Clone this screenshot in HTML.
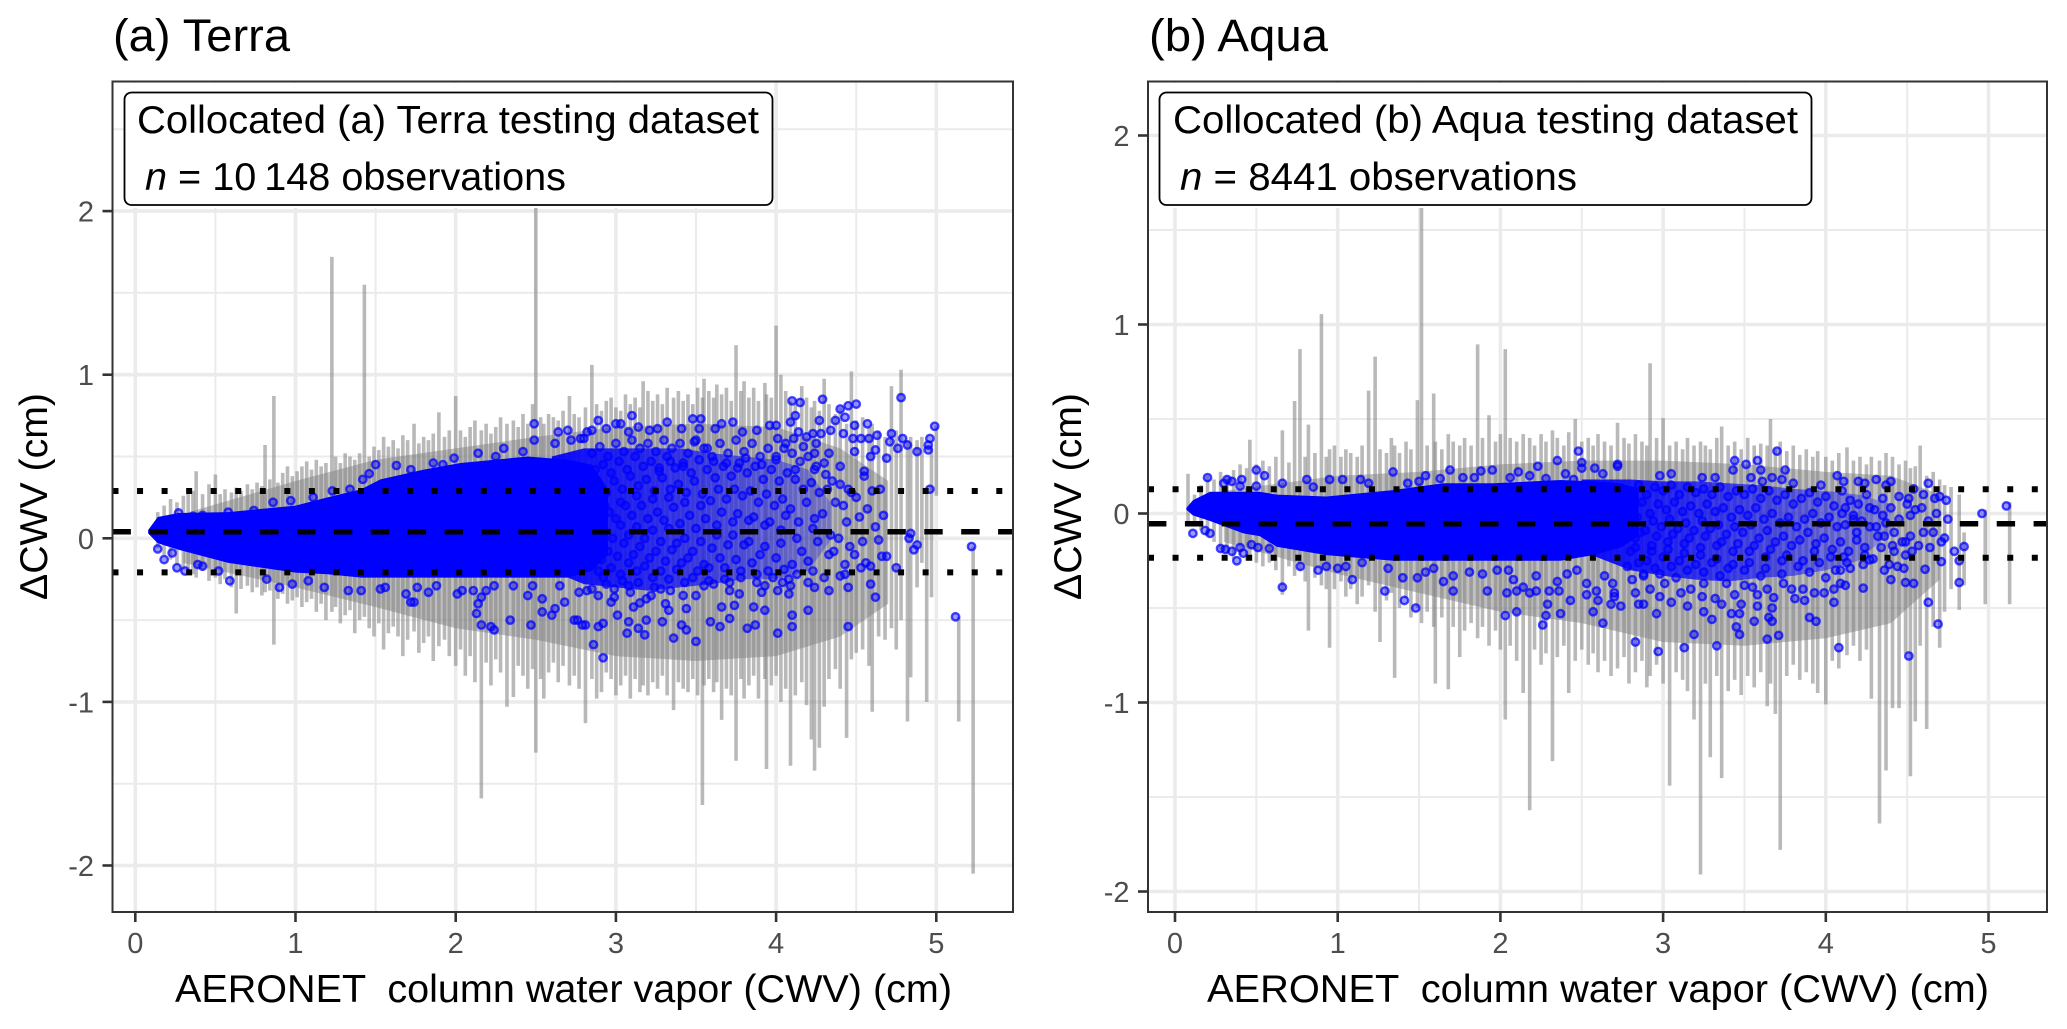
<!DOCTYPE html>
<html lang="en">
<head>
<meta charset="utf-8">
<title>Collocated CWV retrieval differences: Terra and Aqua</title>
<style>
html,body{margin:0;padding:0;background:#fff;}
svg{display:block;}
text{font-family:"Liberation Sans",Arial,sans-serif;white-space:pre;}
.tick{font-size:29px;fill:#4d4d4d;}
.title{font-size:45px;fill:#000;}
.axis{font-size:39px;fill:#000;}
.note{font-size:39px;fill:#000;}
</style>
</head>
<body>
<svg id="chart" width="2067" height="1029" viewBox="0 0 2067 1029" xmlns="http://www.w3.org/2000/svg">
  <defs>
    <linearGradient id="a-haze-fill" gradientUnits="objectBoundingBox" x1="0" y1="0" x2="1" y2="0">
      <stop offset="0" stop-color="#0000ff" stop-opacity="0.95"/>
      <stop offset="0.5" stop-color="#0000ff" stop-opacity="0.65"/>
      <stop offset="1" stop-color="#0000ff" stop-opacity="0.25"/>
    </linearGradient>
    <linearGradient id="b-haze-fill" gradientUnits="objectBoundingBox" x1="0" y1="0" x2="1" y2="0">
      <stop offset="0" stop-color="#0000ff" stop-opacity="0.95"/>
      <stop offset="0.5" stop-color="#0000ff" stop-opacity="0.65"/>
      <stop offset="1" stop-color="#0000ff" stop-opacity="0.25"/>
    </linearGradient>
  </defs>
  <rect x="0" y="0" width="2067" height="1029" fill="#fff"/>

  <g id="panel-a">
    <g id="a-grid"></g>
    <g id="a-band"></g>
    <g id="a-bars"></g>
    <g id="a-core"></g>
    <g id="a-points"></g>
    <g id="a-refs"></g>
    <rect x="124" y="83" width="649" height="125" fill="#fff"/>
    <rect x="124.5" y="92.5" width="648" height="112.5" rx="7" fill="#fff" stroke="#000" stroke-width="1.8"/>
    <text class="note" x="137" y="133" textLength="622" lengthAdjust="spacingAndGlyphs">Collocated (a) Terra testing dataset</text>
    <text class="note" x="145" y="190" textLength="421" lengthAdjust="spacingAndGlyphs"><tspan font-style="italic">n</tspan> = 10&#8201;148 observations</text>
    <rect x="112.5" y="81.5" width="900.5" height="830.5" fill="none" stroke="#333" stroke-width="2"/>
    <g id="a-ticks"></g>
    <text class="title" x="113" y="51" textLength="177" lengthAdjust="spacingAndGlyphs">(a) Terra</text>
    <text class="axis" x="175" y="1002" textLength="777" lengthAdjust="spacingAndGlyphs">AERONET  column water vapor (CWV) (cm)</text>
    <text class="axis" transform="translate(47,600) rotate(-90)" x="0" y="0" textLength="207" lengthAdjust="spacingAndGlyphs">ΔCWV (cm)</text>
  </g>

  <g id="panel-b">
    <g id="b-grid"></g>
    <g id="b-band"></g>
    <g id="b-bars"></g>
    <g id="b-core"></g>
    <g id="b-points"></g>
    <g id="b-refs"></g>
    <rect x="1159" y="83" width="653" height="125" fill="#fff"/>
    <rect x="1159.5" y="92.5" width="652" height="112.5" rx="7" fill="#fff" stroke="#000" stroke-width="1.8"/>
    <text class="note" x="1173" y="133" textLength="625" lengthAdjust="spacingAndGlyphs">Collocated (b) Aqua testing dataset</text>
    <text class="note" x="1180" y="190" textLength="397" lengthAdjust="spacingAndGlyphs"><tspan font-style="italic">n</tspan> = 8441 observations</text>
    <rect x="1148" y="81.5" width="899" height="830.5" fill="none" stroke="#333" stroke-width="2"/>
    <g id="b-ticks"></g>
    <text class="title" x="1149" y="51" textLength="179" lengthAdjust="spacingAndGlyphs">(b) Aqua</text>
    <text class="axis" x="1207" y="1002" textLength="782" lengthAdjust="spacingAndGlyphs">AERONET  column water vapor (CWV) (cm)</text>
    <text class="axis" transform="translate(1081,600) rotate(-90)" x="0" y="0" textLength="207" lengthAdjust="spacingAndGlyphs">ΔCWV (cm)</text>
  </g>
</svg>

<script>
// ---- shared axis values ----
const xTicks = [0, 1, 2, 3, 4, 5];
const xMinorTicks = [0.5, 1.5, 2.5, 3.5, 4.5];
const yTicks = [2, 1, 0, -1, -2];
const yMinorTicks = [1.5, 0.5, -0.5, -1.5];
const yTicksTerraExtraMinor = [2.5];

// ---- Terra reference lines: mean, lower and upper limit ----
const terraRefs = [0.04, -0.208, 0.289];
// ---- Aqua reference lines: mean, lower and upper limit ----
const aquaRefs = [-0.054, -0.234, 0.128];

// ---- Terra: error bars ----
const terraBarX = [
.14,.18,.22,.26,.30,.33,.36,.38,.42,.46,
.5,.53,.56,.6,.63,.66,.7,.73,.76,.79,
.81,.84,.865,.89,.92,.95,.98,1.01,1.04,1.07,
1.1,1.13,1.16,1.19,1.227,1.25,1.28,1.31,1.34,1.37,
1.4,1.43,1.46,1.49,1.52,1.55,1.58,1.61,1.64,1.67,
1.7,1.74,1.77,1.8,1.83,1.86,1.895,1.93,1.96,2.0,
2.03,2.06,2.09,2.12,2.16,2.19,2.22,2.25,2.28,2.32,
2.36,2.39,2.42,2.45,2.48,2.5,2.53,2.55,2.58,2.61,
2.64,2.67,2.71,2.74,2.77,2.81,2.85,2.88,2.91,2.94,
2.97,3.0,3.03,3.06,3.09,3.12,3.15,3.17,3.2,3.23,
3.26,3.29,3.32,3.36,3.39,3.42,3.45,3.48,3.51,3.54,
3.55,3.58,3.61,3.63,3.66,3.69,3.72,3.75,3.78,3.8,
3.83,3.86,3.89,3.93,3.94,3.97,4.0,4.03,4.06,4.09,
4.12,4.16,4.19,4.22,4.24,4.27,4.3,4.33,4.37,4.4,
4.44,4.47,4.5,4.54,4.58,4.6,4.64,4.68,4.72,4.75,
4.78,4.82,4.84,4.88,4.91,4.94,4.97,5.0,5.14,5.23];
const terraBarLo = [
-.06,-.1,-.13,-.16,-.19,-.2,-.22,-.24,-.2,-.26,
-.24,-.28,-.25,-.3,-.46,-.31,-.29,-.33,-.3,-.35,
-.33,-.32,-.65,-.37,-.34,-.4,-.38,-.36,-.42,-.39,
-.37,-.45,-.4,-.5,-.45,-.42,-.52,-.47,-.44,-.58,
-.5,-.48,-.55,-.6,-.52,-.68,-.58,-.54,-.6,-.72,
-.62,-.57,-.7,-.64,-.6,-.75,-.66,-.62,-.72,-.78,
-.68,-.84,-.72,-.88,-1.59,-.76,-.9,-.74,-.82,-1.03,
-.97,-.78,-.84,-.92,-.8,-1.31,-.86,-.98,-.82,-.76,
-.88,-.78,-.9,-.84,-.92,-1.13,-.86,-.98,-.94,-.82,
-.86,-.96,-.9,-.84,-.98,-.86,-.94,-.9,-.96,-.88,
-.92,-.84,-.96,-1.05,-.88,-.92,-.94,-.86,-.96,-1.63,
-.9,-.86,-.94,-.88,-1.11,-.92,-.96,-1.36,-.86,-.98,
-.9,-.84,-.98,-.86,-1.41,-.9,-.84,-1.0,-.92,-1.39,
-.96,-.88,-1.02,-1.23,-1.42,-1.28,-1.03,-.86,-.8,-.92,
-1.22,-.74,-.7,-.68,-.78,-1.06,-.6,-.62,-.55,-.68,
-.5,-1.12,-.85,-.3,-.15,-1.0,-.36,.26,-1.12,-2.05];
const terraBarHi = [
.16,.2,.24,.22,.26,.3,.29,.41,.27,.33,
.39,.27,.3,.28,.31,.29,.33,.3,.34,.32,
.57,.36,.87,.34,.4,.44,.38,.41,.44,.47,
.42,.48,.44,.46,1.72,.5,.46,.52,.5,.48,
.52,1.55,.5,.56,.54,.62,.56,.6,.55,.63,
.6,.7,.58,.62,.6,.64,.77,.62,.66,.87,
.66,.62,.68,.72,.66,.7,.64,.68,.74,.7,
.72,.68,.76,.7,.82,2.3,.74,.7,.76,.74,
.72,.78,.87,.76,.74,.8,1.06,.82,.78,.84,
.86,.8,.78,.88,.82,.86,.8,.96,.9,.84,
.88,.82,.92,.86,.9,.84,.88,.82,.92,.86,
.975,.9,.86,.94,.88,.92,.84,1.18,.9,.96,
.86,.92,.84,.95,.88,.86,1.3,1.0,.9,.84,
.82,.93,.86,.8,.84,.78,.975,.82,.76,.8,
.7,1.02,.72,.74,.68,.7,.66,.62,.93,.66,
1.03,.6,.62,.6,.62,.3,.55,.69,-.48,-.05];

// ---- Terra: solid dense part of the gray error bars ----
const terraBandX = [.3,1,1.5,2,2.5,3,3.5,4,4.4,4.7];
const terraBandHi = [.15,.35,.48,.55,.62,.68,.7,.68,.55,.35];
const terraBandLo = [-.15,-.3,-.42,-.55,-.62,-.72,-.75,-.72,-.6,-.4];

// ---- Terra: solid dense part of the point cloud ----
const terraCoreX = [.08,.14,.27,.58,1.0,1.2,1.41,1.53,1.8,2.03,2.45,2.7,2.85,2.95];
const terraCoreHi = [.05,.13,.155,.16,.2,.25,.3,.36,.42,.46,.5,.48,.45,.3];
const terraCoreLo = [.03,-.03,-.07,-.15,-.21,-.22,-.24,-.24,-.24,-.24,-.24,-.24,-.2,-.1];

// ---- Terra: thinner part of the point cloud ----
const terraHazeX = [2.6,2.8,3.0,3.2,3.4,3.6,3.8,4.0,4.2,4.35];
const terraHazeHi = [.5,.55,.55,.55,.55,.52,.5,.48,.42,.2];
const terraHazeLo = [-.2,-.28,-.3,-.32,-.3,-.28,-.25,-.25,-.2,0];

// ---- Terra: individually visible points ----
const terraPointX = [
.14,.18,.23,.26,.31,.39,.42,.52,.59,.82,
.9,.98,1.08,1.18,1.33,1.41,1.53,1.56,1.69,1.72,
1.74,1.83,2.01,2.13,2.14,2.16,2.22,2.24,2.34,2.47,
2.45,2.54,2.6,2.62,2.68,2.74,2.79,2.11,2.16,2.24,
2.36,2.48,2.54,2.65,1.88,1.76,2.04,2.19,
.27,.36,.42,.58,.74,.86,.97,1.11,1.23,1.34,
1.42,1.46,1.5,1.63,1.72,1.86,1.92,1.99,2.14,2.3,
2.25,2.42,2.49,2.49,2.64,2.7,2.72,2.62,2.78,2.82,
4.78,4.99,4.1,4.15,4.29,4.4,4.45,4.5,4.12,4.09,
4.27,4.37,4.43,4.49,4.57,4.42,4.48,4.53,4.58,4.63,
4.72,4.71,4.79,4.82,4.88,4.96,4.95,4.95,4.69,4.76,
4.62,4.59,4.49,4.34,4.28,4.23,4.14,4.19,4.25,4.33,
4.24,4.17,4.11,4.06,4.01,4.0,3.96,3.88,3.79,3.73,
3.66,3.62,3.53,3.48,3.52,3.41,3.32,3.26,3.21,3.14,
3.1,3.03,3.0,3.08,2.94,2.89,2.85,2.8,
4.4,4.55,4.31,4.24,4.12,4.0,3.91,3.81,3.76,3.69,
3.57,3.49,3.61,3.42,3.34,3.27,
2.92,2.86,2.81,2.76,2.92,2.89,3.01,3.08,3.07,3.14,
3.18,3.19,3.29,3.36,3.41,3.44,3.5,3.59,3.65,3.71,
3.82,3.87,4.01,4.1,4.1,4.45,3.93,3.86,3.66,3.74,
4.2,3.44,3.33,3.31,3.15,3.11,2.97,4.62,4.59,4.45,
4.33,4.24,4.2,4.08,4.09,4.04,4.01,3.93,3.91,3.77,
3.71,3.55,3.5,3.42,3.28,3.22,3.08,2.99,2.82,2.77,
5.12,5.22,4.84,4.83,4.88,4.86,4.69,4.75,4.96,
2.85,2.87,2.84,2.88,2.83,2.86,2.89,2.85,
2.9,2.92,2.89,2.93,2.9,2.88,2.91,2.92,2.89,
2.95,2.97,2.94,2.96,2.93,2.95,2.97,2.94,
3.0,3.02,2.99,3.03,3.0,2.98,3.01,3.03,2.99,
3.05,3.07,3.04,3.06,3.03,3.05,3.08,3.04,
3.1,3.12,3.09,3.13,3.1,3.08,3.11,3.13,3.09,
3.15,3.17,3.14,3.16,3.13,3.15,3.18,3.14,
3.2,3.22,3.19,3.23,3.2,3.18,3.21,3.23,3.19,
3.25,3.27,3.24,3.26,3.23,3.25,3.28,3.24,
3.3,3.32,3.29,3.33,3.3,3.28,3.31,3.33,
3.35,3.37,3.34,3.36,3.33,3.35,3.38,3.34,
3.4,3.42,3.39,3.43,3.4,3.38,3.41,3.43,
3.45,3.47,3.44,3.46,3.43,3.45,3.48,
3.5,3.52,3.49,3.53,3.5,3.48,3.51,
3.55,3.57,3.54,3.56,3.53,3.55,3.58,
3.6,3.62,3.59,3.63,3.6,3.58,3.61,
3.65,3.67,3.64,3.66,3.63,3.65,3.68,
3.7,3.72,3.69,3.73,3.7,3.68,3.71,
3.75,3.77,3.74,3.76,3.73,3.75,3.78,
3.8,3.82,3.79,3.83,3.8,3.78,
3.85,3.87,3.84,3.86,3.83,3.85,3.88,
3.9,3.92,3.89,3.93,3.9,3.88,
3.95,3.97,3.94,3.96,3.93,3.95,
4.0,4.02,3.99,4.03,4.0,3.98,
4.05,4.07,4.04,4.06,4.03,4.05,
4.1,4.12,4.09,4.13,4.1,4.08,
4.15,4.17,4.14,4.16,4.13,
4.2,4.22,4.19,4.23,4.2,
4.25,4.27,4.24,4.26,4.23,
4.3,4.32,4.29,4.33,4.3,
4.35,4.37,4.34,4.36,
4.4,4.42,4.39,4.43,4.4,
4.45,4.47,4.44,4.46,4.43,
4.5,4.52,4.49,4.53,
4.55,4.57,4.54,4.56,
4.6,4.62,4.59,
4.65,4.67,4.64,4.66];
const terraPointY = [
-.065,-.13,-.09,-.18,-.2,-.16,-.17,-.2,-.26,-.25,
-.3,-.28,-.26,-.3,-.32,-.32,-.31,-.3,-.34,-.39,
-.39,-.33,-.34,-.46,-.4,-.53,-.54,-.56,-.5,-.53,
-.35,-.45,-.47,-.43,-.39,-.5,-.53,-.32,-.36,-.29,
-.29,-.29,-.37,-.29,-.29,-.3,-.32,-.32,
.155,.135,.14,.16,.17,.22,.23,.25,.29,.3,
.36,.395,.45,.445,.42,.46,.45,.49,.52,.55,
.5,.53,.7,.6,.65,.66,.6,.58,.61,.65,
.86,.685,.84,.83,.85,.79,.81,.82,.75,.71,
.72,.72,.74,.69,.7,.64,.61,.61,.61,.63,
.64,.59,.61,.57,.53,.61,.57,.54,.49,.55,
.54,.5,.53,.66,.64,.64,.65,.62,.58,.52,
.52,.56,.61,.58,.61,.69,.69,.66,.65,.71,
.7,.67,.73,.73,.67,.67,.71,.67,.66,.68,
.75,.7,.7,.65,.67,.72,.66,.61,
.44,.41,.39,.42,.42,.48,.45,.49,.43,.46,
.55,.59,.47,.44,.47,.43,
-.73,-.65,-.53,-.5,-.52,-.54,-.47,-.51,-.58,-.55,
-.59,-.5,-.51,-.61,-.53,-.56,-.63,-.51,-.54,-.49,
-.55,-.53,-.58,-.54,-.47,-.54,-.44,-.42,-.42,-.41,
-.44,-.43,-.44,-.4,-.395,-.42,-.39,-.36,-.28,-.3,
-.32,-.3,-.27,-.34,-.29,-.27,-.32,-.29,-.33,-.34,
-.32,-.29,-.35,-.35,-.31,-.35,-.29,-.31,-.32,-.33,
-.48,-.05,.03,0,-.04,-.07,-.11,-.18,.3,
.52,.42,.3,.18,.05,-.08,-.2,-.31,
.56,.45,.33,.2,.1,-.02,-.13,-.24,-.35,
.5,.4,.28,.16,.04,-.08,-.18,-.28,
.58,.47,.35,.22,.12,0,-.11,-.22,-.36,
.53,.42,.3,.2,.08,-.03,-.15,-.26,
.6,.5,.38,.26,.14,.02,-.1,-.2,-.33,
.55,.44,.32,.2,.07,-.05,-.17,-.27,
.58,.47,.36,.24,.12,0,-.12,-.24,-.37,
.53,.41,.29,.16,.05,-.08,-.2,-.3,
.6,.5,.37,.25,.11,-.02,-.14,-.25,
.55,.43,.3,.19,.06,-.07,-.19,-.32,
.58,.46,.33,.22,.09,-.03,-.15,-.27,
.52,.4,.28,.14,0,-.12,-.24,
.6,.48,.35,.2,.06,-.08,-.2,
.55,.42,.27,.12,-.02,-.16,-.26,
.5,.37,.23,.08,-.06,-.18,-.28,
.58,.44,.3,.16,.02,-.12,-.25,
.52,.38,.24,.1,-.04,-.18,-.27,
.6,.46,.3,.15,.02,-.13,-.24,
.53,.4,.26,.11,-.04,-.2,
.58,.44,.29,.13,-.02,-.15,-.27,
.5,.36,.22,.08,-.1,-.22,
.55,.42,.27,.1,-.05,-.2,
.5,.35,.2,.05,-.12,-.24,
.55,.4,.24,.14,-.03,-.19,
.52,.36,.18,0,-.16,-.25,
.47,.3,.1,-.08,-.22,
.5,.34,.22,.06,-.14,
.44,.28,.12,-.02,-.2,
.46,.3,.15,-.1,-.24,
.35,.22,.02,-.08,
.33,.2,0,-.16,-.23,
.3,.28,.1,-.05,-.22,
.25,.13,-.1,-.18,
.38,.18,-.02,-.15,
.29,.07,-.17,
.3,.14,-.01,-.11];

// ---- Aqua: error bars ----
const aquaBarX = [
.08,.12,.16,.2,.24,.28,.32,.36,.4,.44,
.46,.5,.54,.58,.62,.66,.7,.735,.768,.8,
.82,.86,.9,.93,.95,.98,1.02,1.05,1.08,1.12,
1.15,1.19,1.23,1.26,1.3,1.33,1.35,1.38,1.42,1.45,
1.49,1.515,1.55,1.59,1.6,1.64,1.68,1.71,1.75,1.78,
1.82,1.86,1.89,1.93,1.97,2.0,2.03,2.06,2.1,2.14,
2.18,2.21,2.25,2.28,2.32,2.35,2.39,2.42,2.46,2.5,
2.54,2.57,2.6,2.64,2.68,2.72,2.76,2.79,2.83,2.87,
2.9,2.92,2.96,3.0,3.04,3.08,3.12,3.15,3.19,3.23,
3.26,3.29,3.33,3.36,3.4,3.44,3.48,3.52,3.56,3.6,
3.64,3.66,3.69,3.72,3.76,3.8,3.84,3.88,3.92,3.95,
4.0,4.04,4.08,4.13,4.17,4.21,4.25,4.28,4.33,4.37,
4.41,4.45,4.49,4.52,4.55,4.58,4.62,4.66,4.7,4.73,
4.77,4.82,4.85,4.98,5.13];
const aquaBarLo = [
-.04,-.06,-.09,-.12,-.15,-.19,-.21,-.24,-.22,-.25,
-.24,-.26,-.28,-.26,-.3,-.43,-.28,-.33,-.3,-.36,
-.62,-.34,-.38,-.4,-.71,-.4,-.36,-.44,-.4,-.48,
-.44,-.38,-.52,-.68,-.46,-.42,-.87,-.5,-.45,-.55,
-.5,-.58,-.52,-.6,-.9,-.55,-.93,-.6,-.76,-.62,
-.58,-.66,-.6,-.7,-.62,-.72,-1.09,-.7,-.78,-.95,
-1.57,-.72,-.8,-.74,-1.31,-.76,-.7,-.95,-.78,-.72,
-.8,-.74,-.84,-.78,-.86,-.82,-.76,-.9,-.84,-.78,
-.92,-.86,-.8,-.9,-1.44,-.84,-.88,-.94,-1.09,-1.91,
-.9,-1.29,-.86,-1.4,-.94,-.88,-.96,-.86,-.92,-.84,
-1.02,-.9,-1.06,-1.78,-.86,-.8,-.88,-.84,-.9,-.95,
-1.01,-.78,-.82,-.75,-.7,-.78,-.72,-.98,-1.64,-1.36,
-1.03,-1.03,-.74,-1.39,-1.1,-.7,-1.14,-.6,-.71,-.52,
-.4,-.51,-.38,-.48,-.48];
const aquaBarHi = [
.21,.1,.15,.2,.18,.22,.2,.23,.26,.24,
.39,.26,.28,.25,.3,.44,.27,.595,.87,.3,
.47,.32,1.055,.3,.34,.36,.3,.34,.32,.3,
.36,.65,.83,.34,.32,.4,.36,.32,.38,.34,
.6,1.9,.36,.635,.38,.34,.42,.38,.36,.4,
.36,.895,.4,.52,.38,.42,.87,.4,.38,.42,
.4,.36,.42,.38,.44,.4,.36,.43,.5,.38,
.4,.36,.42,.38,.36,.48,.4,.37,.42,.38,
.36,.795,.4,.505,.36,.38,.34,.4,.36,.38,
.36,.34,.4,.46,.36,.38,.34,.4,.36,.37,
.36,.5,.34,.38,.33,.36,.31,.34,.3,.33,
.3,.28,.32,.35,.28,.3,.26,.3,.28,.32,
.3,.26,.28,.24,.25,.36,.2,.22,.18,.15,
.14,.1,-.1,.02,.06];

// ---- Aqua: solid dense part of the gray error bars ----
const aquaBandX = [.3,1,1.5,2,2.5,3,3.5,4,4.4,4.7];
const aquaBandHi = [.12,.2,.22,.26,.28,.28,.26,.22,.2,.1];
const aquaBandLo = [-.15,-.32,-.42,-.52,-.58,-.68,-.7,-.66,-.58,-.35];

// ---- Aqua: solid dense part of the point cloud ----
const aquaCoreX = [.07,.11,.215,.42,.52,.625,.93,1.34,1.65,1.96,2.37,2.57,2.74,2.85];
const aquaCoreHi = [.03,.07,.115,.115,.115,.1,.09,.124,.16,.16,.177,.17,.16,.13];
const aquaCoreLo = [.02,-.01,-.04,-.105,-.12,-.176,-.22,-.25,-.25,-.25,-.25,-.22,-.18,-.12];

// ---- Aqua: thinner part of the point cloud ----
const aquaHazeX = [2.5,2.8,3.0,3.2,3.4,3.6,3.8,4.0,4.2,4.4];
const aquaHazeHi = [.18,.18,.17,.17,.16,.15,.13,.12,.1,.05];
const aquaHazeLo = [-.2,-.3,-.33,-.35,-.36,-.34,-.33,-.3,-.25,-.1];

// ---- Aqua: individually visible points ----
const aquaPointX = [
.2,.11,.185,.215,.3,.32,.35,.41,.4,.5,
.55,.5,.66,.81,.85,.95,1.03,1.14,1.19,1.34,
1.54,1.43,1.5,1.63,1.69,1.77,1.84,1.88,1.95,2.06,
2.11,2.18,2.23,2.28,2.35,2.4,2.45,2.48,2.5,2.5,
2.58,2.63,2.72,
.28,.31,.35,.4,.38,.42,.47,.51,.66,.58,
.77,.88,.93,1.0,1.05,1.09,1.15,1.29,1.31,1.4,
1.41,1.48,1.49,1.54,1.59,1.65,1.71,1.71,1.81,1.89,
1.92,1.98,2.05,2.08,2.04,2.03,2.1,2.1,2.14,2.18,
2.22,2.22,2.3,2.36,2.35,2.29,2.28,2.26,2.37,2.43,
2.41,2.47,2.53,2.53,2.57,2.63,2.6,2.59,2.68,2.69,
2.64,2.7,
2.72,2.98,3.05,3.24,3.32,3.44,3.43,3.51,3.58,3.6,
3.61,3.54,3.67,3.7,3.75,3.73,3.8,3.97,4.07,4.11,
4.2,4.24,4.31,4.4,4.37,4.45,4.51,4.54,4.63,4.6,
4.67,4.74,4.75,4.7,4.96,5.11,
4.52,4.59,4.68,4.63,4.6,4.66,4.73,4.71,4.64,4.79,
4.85,4.82,4.71,4.61,4.82,4.63,4.69,4.51,4.49,4.54,
4.4,4.48,4.53,4.49,4.42,4.35,4.31,4.41,4.36,4.27,
4.17,4.1,4.12,4.19,4.24,4.27,4.15,4.11,4.09,4.23,
4.12,4.09,4.05,4.08,3.9,3.94,3.71,3.64,3.47,3.45,
3.33,3.19,3.13,2.97,2.83,2.96,2.74,3.3,3.15,3.25,
3.56,3.67,3.65,3.67,3.58,3.47,3.42,3.36,3.48,3.32,
3.24,3.05,2.98,2.88,2.85,2.83,2.7,3.68,3.81,3.87,
3.93,3.99,4.05,3.86,3.79,3.74,3.55,3.44,3.58,3.64,
3.5,3.39,3.25,3.17,3.11,3.01,2.92,
2.8,2.82,2.79,2.83,2.8,2.78,2.81,
2.85,2.87,2.84,2.86,2.83,2.85,2.88,
2.9,2.92,2.89,2.93,2.9,2.88,
2.95,2.97,2.94,2.96,2.93,2.95,
3.0,3.02,2.99,3.03,3.0,2.98,
3.05,3.07,3.04,3.06,3.03,3.05,
3.1,3.12,3.09,3.13,3.1,3.08,
3.15,3.17,3.14,3.16,3.13,3.15,
3.2,3.22,3.19,3.23,3.2,
3.25,3.27,3.24,3.26,3.23,3.25,
3.3,3.32,3.29,3.33,3.3,
3.35,3.37,3.34,3.36,3.33,3.35,
3.4,3.42,3.39,3.43,3.4,
3.45,3.47,3.44,3.46,3.43,
3.5,3.52,3.49,3.53,3.5,
3.55,3.57,3.54,3.56,3.53,
3.6,3.62,3.59,3.63,3.6,
3.65,3.67,3.64,3.66,3.63,
3.7,3.72,3.69,3.73,
3.75,3.77,3.74,3.76,3.73,
3.8,3.82,3.79,3.83,
3.85,3.87,3.84,3.86,
3.9,3.92,3.89,3.93,3.9,
3.95,3.97,3.94,3.96,
4.0,4.02,3.99,4.03,4.0,
4.05,4.07,4.04,4.06,
4.1,4.12,4.09,4.13,
4.15,4.17,4.14,
4.2,4.22,4.19,4.23,
4.25,4.27,4.24,
4.3,4.32,4.29,
4.35,4.37,4.34,4.36,
4.4,4.42,4.39,
4.45,4.47,4.44,
4.5,4.52,4.49,
4.55,4.57];
const aquaPointY = [
.19,-.105,-.09,-.105,.16,.18,.17,.18,.145,.23,
.2,.145,.16,.18,.14,.18,.18,.18,.16,.22,
.2,.16,.17,.185,.23,.19,.19,.225,.23,.19,
.22,.2,.25,.185,.28,.21,.18,.33,.27,.24,
.24,.21,.25,
-.185,-.19,-.2,-.18,-.25,-.21,-.165,-.18,-.39,-.185,
-.28,-.3,-.28,-.29,-.28,-.35,-.26,-.41,-.29,-.34,
-.46,-.5,-.34,-.31,-.29,-.36,-.33,-.41,-.31,-.32,
-.41,-.3,-.3,-.35,-.42,-.54,-.52,-.41,-.39,-.42,
-.41,-.33,-.41,-.41,-.36,-.48,-.54,-.59,-.53,-.46,
-.32,-.3,-.37,-.43,-.52,-.58,-.46,-.41,-.48,-.37,
-.33,-.44,
.26,.2,.21,.19,.19,.28,.23,.26,.28,.23,
.17,.19,.19,.33,.23,.18,.16,.15,.2,.17,
.17,.16,.18,.17,.15,.09,.08,.13,.16,.1,
.08,.07,-.03,.09,0,.04,
-.01,.03,0,-.04,-.1,-.1,-.13,-.15,-.18,-.2,
-.175,-.25,-.255,-.295,-.365,-.47,-.585,-.754,-.365,-.37,
-.35,-.29,-.2,-.15,-.1,-.01,-.07,-.17,-.12,.03,
-.01,0,.03,-.1,-.18,-.245,-.29,-.23,-.3,-.395,
-.38,-.37,-.47,-.71,-.55,-.57,-.645,-.665,-.64,-.6,
-.7,-.64,-.71,-.73,-.68,-.53,-.49,-.56,-.49,-.52,
-.57,-.57,-.55,-.5,-.49,-.53,-.53,-.48,-.48,-.45,
-.44,-.47,-.44,-.48,-.48,-.42,-.42,-.445,-.45,-.46,
-.42,-.42,-.4,-.4,-.4,-.37,-.39,-.43,-.43,-.4,
-.38,-.37,-.37,-.4,-.42,-.37,-.4,
.12,.03,-.05,-.13,-.2,-.28,-.35,
.15,.06,-.02,-.1,-.18,-.26,-.32,
.1,0,-.09,-.17,-.25,-.33,
.14,.05,-.04,-.12,-.2,-.29,
.12,.02,-.07,-.15,-.23,-.32,
.15,.06,-.03,-.11,-.19,-.28,
.1,.01,-.08,-.16,-.25,-.34,
.14,.04,-.05,-.13,-.21,-.3,
.11,0,-.09,-.18,-.27,
.13,.05,-.04,-.12,-.22,-.31,
.1,.01,-.08,-.17,-.26,
.14,.03,-.06,-.15,-.24,-.33,
.09,-.02,-.11,-.2,-.29,
.12,.02,-.07,-.16,-.27,
.1,-.01,-.1,-.2,-.3,
.13,.03,-.06,-.17,-.26,
.08,-.03,-.13,-.23,-.33,
.12,0,-.09,-.19,-.29,
.07,-.05,-.15,-.25,
.1,-.02,-.12,-.22,-.32,
.05,-.07,-.17,-.28,
.08,-.03,-.14,-.25,
.11,0,-.1,-.2,-.31,
.06,-.05,-.16,-.26,
.09,-.02,-.13,-.23,-.34,
.04,-.07,-.19,-.3,
.12,-.06,-.15,-.26,
.07,-.03,-.2,
.05,-.04,-.14,-.27,
.1,-.07,-.22,
.02,-.12,-.24,
.08,-.05,-.18,-.3,
.03,-.2,-.27,
-.03,-.15,-.28,
.05,-.12,-.22,
.02,-.17];

// ---- rendering ----
const NS = 'http://www.w3.org/2000/svg';

function make(tag, attrs, parent) {
  const el = document.createElementNS(NS, tag);
  for (const k in attrs) el.setAttribute(k, attrs[k]);
  parent.appendChild(el);
  return el;
}

function renderPanel(cfg) {
  const xScale = v => cfg.x0 + v * cfg.xUnit;
  const yScale = v => cfg.y0 - v * cfg.yUnit;
  const g = id => document.getElementById(cfg.prefix + '-' + id);
  const areaPoints = (xs, his, los) => {
    const upper = xs.map((x, i) => xScale(x) + ',' + yScale(his[i]));
    const lower = xs.map((x, i) => xScale(x) + ',' + yScale(los[i])).reverse();
    return upper.concat(lower).join(' ');
  };

  // grid
  const grid = g('grid');
  const hLine = (val, w) => {
    const el = make('line', {x1: cfg.left, x2: cfg.right, y1: yScale(val), y2: yScale(val), stroke: '#ebebeb', 'stroke-width': w}, grid);
    
    
  };
  const vLine = (val, w) => {
    const el = make('line', {x1: xScale(val), x2: xScale(val), y1: cfg.top, y2: cfg.bottom, stroke: '#ebebeb', 'stroke-width': w}, grid);
    
    
  };
  cfg.yMinor.forEach(v => hLine(v, 2));
  xMinorTicks.forEach(v => vLine(v, 2));
  yTicks.forEach(v => hLine(v, 3.6));
  xTicks.forEach(v => vLine(v, 3.6));

  // dense gray band under the individual bars
  const band = make('polygon', {points: areaPoints(cfg.bandX, cfg.bandHi, cfg.bandLo), fill: '#8c8c8c', 'fill-opacity': 0.55}, g('band'));
  
  

  // error bars
  const bars = g('bars');
  cfg.barX.forEach((x, i) => {
    const el = make('line', {x1: xScale(x), x2: xScale(x), y1: yScale(cfg.barLo[i]), y2: yScale(cfg.barHi[i]), stroke: '#808080', 'stroke-opacity': 0.55, 'stroke-width': 3.6}, bars);
    
    
  });

  // thinning and solid parts of the point cloud
  const haze = make('polygon', {points: areaPoints(cfg.hazeX, cfg.hazeHi, cfg.hazeLo), fill: 'url(#' + cfg.prefix + '-haze-fill)'}, g('core'));
  
  
  const core = make('polygon', {points: areaPoints(cfg.coreX, cfg.coreHi, cfg.coreLo), fill: '#0000ff'}, g('core'));
  
  

  // points
  const points = g('points');
  cfg.pointX.forEach((x, i) => {
    const el = make('circle', {cx: xScale(x), cy: yScale(cfg.pointY[i]), r: 3.7, fill: '#0000ff', 'fill-opacity': 0.4, stroke: '#0000ff', 'stroke-opacity': 0.72, 'stroke-width': 2.4}, points);
    
    
  });

  // reference lines: mean dashed, limits dotted
  const refs = g('refs');
  const mean = make('line', {x1: cfg.left, x2: cfg.right, y1: yScale(cfg.refs[0]), y2: yScale(cfg.refs[0]), stroke: '#000', 'stroke-width': 5.5, 'stroke-dasharray': '18.4 18.5'}, refs);
  
  
  const lowerLine = make('line', {x1: cfg.left, x2: cfg.right, y1: yScale(cfg.refs[1]), y2: yScale(cfg.refs[1]), stroke: '#000', 'stroke-width': 6, 'stroke-dasharray': '6 18.55', 'stroke-dashoffset': 0}, refs);
  
  
  const upperLine = make('line', {x1: cfg.left, x2: cfg.right, y1: yScale(cfg.refs[2]), y2: yScale(cfg.refs[2]), stroke: '#000', 'stroke-width': 6, 'stroke-dasharray': '6 18.55', 'stroke-dashoffset': 0}, refs);
  
  

  // ticks and tick labels
  const ticks = g('ticks');
  xTicks.forEach(v => {
    const t = make('line', {x1: xScale(v), x2: xScale(v), y1: cfg.bottom, y2: cfg.bottom + 10, stroke: '#333', 'stroke-width': 2.6}, ticks);
    
    
    const l = make('text', {x: xScale(v), y: 953, 'text-anchor': 'middle', class: 'tick'}, ticks);
    
    
    l.textContent = String(v);
  });
  yTicks.forEach(v => {
    const t = make('line', {x1: cfg.left - 10, x2: cfg.left, y1: yScale(v), y2: yScale(v), stroke: '#333', 'stroke-width': 2.6}, ticks);
    
    
    const l = make('text', {x: cfg.left - 18.5, y: yScale(v) + 10.5, 'text-anchor': 'end', class: 'tick'}, ticks);
    
    
    l.textContent = String(v);
  });
}

renderPanel({
  prefix: 'a', left: 112.5, right: 1013, top: 81.5, bottom: 912,
  x0: 135.3, xUnit: 160.2, y0: 538.3, yUnit: 163.6,
  yMinor: yMinorTicks.concat(yTicksTerraExtraMinor),
  barX: terraBarX, barLo: terraBarLo, barHi: terraBarHi,
  bandX: terraBandX, bandHi: terraBandHi, bandLo: terraBandLo,
  coreX: terraCoreX, coreHi: terraCoreHi, coreLo: terraCoreLo,
  hazeX: terraHazeX, hazeHi: terraHazeHi, hazeLo: terraHazeLo,
  pointX: terraPointX, pointY: terraPointY, refs: terraRefs
});
renderPanel({
  prefix: 'b', left: 1148, right: 2047, top: 81.5, bottom: 912,
  x0: 1175, xUnit: 162.7, y0: 513.5, yUnit: 189,
  yMinor: yMinorTicks,
  barX: aquaBarX, barLo: aquaBarLo, barHi: aquaBarHi,
  bandX: aquaBandX, bandHi: aquaBandHi, bandLo: aquaBandLo,
  coreX: aquaCoreX, coreHi: aquaCoreHi, coreLo: aquaCoreLo,
  hazeX: aquaHazeX, hazeHi: aquaHazeHi, hazeLo: aquaHazeLo,
  pointX: aquaPointX, pointY: aquaPointY, refs: aquaRefs
});
</script>
</body>
</html>
